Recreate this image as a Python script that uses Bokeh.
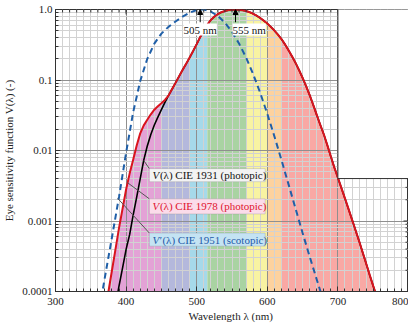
import numpy as np
from bokeh.plotting import figure
from bokeh.models import (FixedTicker, Range1d, BoxAnnotation, Label, Arrow, NormalHead,
                          CustomJSTickFormatter)
from bokeh.embed import file_html
from bokeh.resources import INLINE

# ---------------- data ----------------
wl_1931 = [380, 385, 390, 395, 400, 405, 410, 415, 420, 425, 430, 435, 440, 445, 450,
           455, 460, 465, 470, 475, 480, 485, 490, 495, 500, 505, 510, 515, 520, 525,
           530, 535, 540, 545, 550, 555, 560, 565, 570, 575, 580, 585, 590, 595, 600,
           605, 610, 615, 620, 625, 630, 635, 640, 645, 650, 655, 660, 665, 670, 675,
           680, 685, 690, 695, 700, 705, 710, 715, 720, 725, 730, 735, 740, 745, 750,
           755, 760]
v_1931 = [0.000039, 0.000064, 0.00012, 0.000217, 0.000396, 0.00064, 0.00121, 0.00218,
          0.004, 0.0073, 0.0116, 0.01684, 0.023, 0.0298, 0.038, 0.048, 0.06, 0.0739,
          0.09098, 0.1126, 0.13902, 0.1693, 0.20802, 0.2586, 0.323, 0.4073, 0.503,
          0.6082, 0.71, 0.7932, 0.862, 0.9149, 0.954, 0.9803, 0.99495, 1.0, 0.995,
          0.9786, 0.952, 0.9154, 0.87, 0.8163, 0.757, 0.6949, 0.631, 0.5668, 0.503,
          0.4412, 0.381, 0.321, 0.265, 0.217, 0.175, 0.1382, 0.107, 0.0816, 0.061,
          0.04458, 0.032, 0.0232, 0.017, 0.01192, 0.00821, 0.005723, 0.004102, 0.002929,
          0.002091, 0.001484, 0.001047, 0.00074, 0.00052, 0.000361, 0.000249, 0.000172,
          0.00012, 0.0000848, 0.00006]

wl_1978 = [375, 380, 385, 390, 395, 400, 405, 410, 415, 420, 425, 430, 435, 440, 445,
           450, 455, 460, 465, 470, 475, 480, 485, 490, 495, 500, 505, 510, 515, 520,
           525, 530, 535, 540, 545, 550, 555, 560, 565, 570, 575, 580, 585, 590, 595,
           600, 605, 610, 615, 620, 625, 630, 635, 640, 645, 650, 655, 660, 665, 670,
           675, 680, 685, 690, 695, 700, 705, 710, 715, 720, 725, 730, 735, 740, 745,
           750, 755]
v_1978 = [0.0001, 0.0002, 0.0004, 0.0008, 0.0015, 0.0028, 0.0047, 0.0074, 0.0118,
          0.0175, 0.0227, 0.0273, 0.0326, 0.0379, 0.0424, 0.0468, 0.0521, 0.06, 0.0739,
          0.091, 0.1126, 0.139, 0.1693, 0.208, 0.2586, 0.323, 0.4073, 0.503, 0.6082,
          0.71, 0.7932, 0.862, 0.9149, 0.954, 0.9803, 0.99495, 1.0, 0.995, 0.9786,
          0.952, 0.9154, 0.87, 0.8163, 0.757, 0.6949, 0.631, 0.5668, 0.503, 0.4412,
          0.381, 0.321, 0.265, 0.217, 0.175, 0.1382, 0.107, 0.0816, 0.061, 0.04458,
          0.032, 0.0232, 0.017, 0.01192, 0.00821, 0.005723, 0.004102, 0.002929,
          0.002091, 0.001484, 0.001047, 0.00074, 0.00052, 0.000361, 0.000249,
          0.000172, 0.00012, 0.0000848]

wl_1951 = [360, 370, 380, 390, 400, 410, 420, 430, 440, 450, 460, 470, 480, 490, 500,
           505, 510, 520, 530, 540, 550, 560, 570, 580, 590, 600, 610, 620, 630, 640,
           650, 660, 670, 680]
v_1951 = [0.000042, 0.00016, 0.000589, 0.002209, 0.00929, 0.03484, 0.0966, 0.1998,
          0.3281, 0.455, 0.567, 0.676, 0.793, 0.904, 0.982, 1.0, 0.997, 0.935, 0.811,
          0.65, 0.481, 0.3288, 0.2076, 0.1212, 0.0655, 0.03315, 0.01593, 0.00737,
          0.003335, 0.001497, 0.000677, 0.0003129, 0.000148, 0.0000715]

band_edges = [375, 450, 490, 515, 570, 600, 620, 755]
band_colors = ["#e3a2d6", "#b4b8dc", "#a6d9ea", "#a9d3a2", "#f8f3a2", "#fdd29e", "#f9a8a4"]

x_ticks = [300, 400, 500, 600, 700, 800]
y_ticks = [0.0001, 0.001, 0.01, 0.1, 1.0]
y_tick_labels = ["0.0001", "0.001", "0.01", "0.1", "1.0"]

peak_wl = [505, 555]
peak_labels = ["505 nm", "555 nm"]

# ---------------- figure ----------------
FONT = "Liberation Serif"
X_MIN, X_MAX = 300, 800
Y_MIN, Y_MAX = 1e-4, 1.0
AX = "#333333"
W, H = 408, 324

p = figure(width=W, height=H, x_range=Range1d(X_MIN, X_MAX), y_range=Range1d(Y_MIN, Y_MAX),
           y_axis_type="log", output_backend="svg", toolbar_location=None,
           min_border_left=0, min_border_right=0, min_border_top=9, min_border_bottom=0)
p.background_fill_color = "white"
p.border_fill_color = "white"
p.outline_line_color = AX

x_minor = list(range(X_MIN, X_MAX + 1, 10))
y_minor = [m * 10.0 ** e for e in range(-4, 0) for m in range(2, 10)]
xt = FixedTicker(ticks=x_ticks, minor_ticks=x_minor)
yt = FixedTicker(ticks=y_ticks, minor_ticks=y_minor)

yfmt = CustomJSTickFormatter(args=dict(vals=y_ticks, labs=y_tick_labels), code="""
for (let i = 0; i < vals.length; i++) {
  if (Math.abs(Math.log10(tick) - Math.log10(vals[i])) < 1e-6) return labs[i];
}
return "";
""")


def style_axis(ax):
    ax.axis_line_color = AX
    ax.major_tick_line_color = AX
    ax.minor_tick_line_color = AX
    ax.major_tick_in = 5
    ax.major_tick_out = 0
    ax.minor_tick_in = 3
    ax.minor_tick_out = 0
    ax.major_label_text_font = FONT
    ax.major_label_text_font_size = "11px"
    ax.major_label_text_color = "#222222"
    ax.axis_label_text_font = FONT
    ax.axis_label_text_font_size = "11px"
    ax.axis_label_text_font_style = "normal"
    ax.axis_label_text_color = "#222222"


xa = p.xaxis[0]
xa.ticker = xt
style_axis(xa)
xa.axis_label = "Wavelength λ  (nm)"
xa.major_label_standoff = 6
xa.axis_label_standoff = 2

ya = p.yaxis[0]
ya.ticker = yt
ya.formatter = yfmt
style_axis(ya)
ya.axis_label = "Eye sensitivity function V(λ) (-)"
ya.major_label_standoff = 3
ya.axis_label_standoff = 4

for g in (p.xgrid[0], p.ygrid[0]):
    g.grid_line_color = "#8f8f8f"
    g.grid_line_width = 1
    g.minor_grid_line_color = "#d2d2d2"
    g.minor_grid_line_width = 1
p.xgrid[0].ticker = xt
p.ygrid[0].ticker = yt

# ---------------- colour bands under the 1978 curve ----------------
wl78 = np.array(wl_1978, dtype=float)
v78 = np.array(v_1978, dtype=float)
for a, b, c in zip(band_edges[:-1], band_edges[1:], band_colors):
    m = (wl78 >= a) & (wl78 <= b)
    r = p.varea(x=wl78[m], y1=np.full(m.sum(), Y_MIN), y2=v78[m], fill_color=c, fill_alpha=1.0)
    r.level = "image"

# ---------------- curves ----------------
p.line(wl_1931, v_1931, line_color="black", line_width=1.6)
p.line(wl_1978, v_1978, line_color="#d9141e", line_width=2)
p.line(wl_1951, v_1951, line_color="#1f5fa8", line_width=2, line_dash="6 4")

# ---------------- inward ticks on the top and right frame edges (clipped half-dashes) ----------------
p.scatter(x=x_ticks, y=[Y_MAX] * len(x_ticks), marker="dash", angle=np.pi / 2, size=10,
          line_color=AX, line_width=1)
p.scatter(x=x_minor, y=[Y_MAX] * len(x_minor), marker="dash", angle=np.pi / 2, size=6,
          line_color=AX, line_width=1)
p.scatter(x=[X_MAX] * len(y_ticks), y=y_ticks, marker="dash", size=10, line_color=AX, line_width=1)
p.scatter(x=[X_MAX] * len(y_minor), y=y_minor, marker="dash", size=6, line_color=AX, line_width=1)

# ---------------- cut-out at the top right ----------------
STEP = 0.004
p.add_layout(BoxAnnotation(left=700, left_units="data", right=W, right_units="canvas",
                           top=0, top_units="canvas", bottom=STEP, bottom_units="data",
                           fill_color="white", fill_alpha=1.0, line_color=None))
for xs, ys in (([700, 700], [Y_MAX, STEP]), ([700, X_MAX], [STEP, STEP])):
    rr = p.line(xs, ys, line_color=AX, line_width=1)
    rr.level = "overlay"

# ---------------- peak markers ----------------
for w, t, off, al in zip(peak_wl, peak_labels, [0, -3], ["center", "left"]):
    p.add_layout(Arrow(x_start=w, y_start=0.66, x_end=w, y_end=Y_MAX,
                       line_color="black", line_width=1,
                       end=NormalHead(size=5, fill_color="black", line_color="black")))
    p.add_layout(Label(x=w, y=0.52, text=t, x_offset=off, text_align=al,
                       text_baseline="middle", text_font=FONT, text_font_size="11px",
                       text_color="#111111", background_fill_color="white",
                       background_fill_alpha=1.0))

# ---------------- callout boxes ----------------
callouts = [
    # (box bottom, box top, text centre, text colour, fill colour, italic part, rest, leader start)
    (0.00361, 0.00553, 0.00447, "#111111", "#f3f3f3", "V", "(λ) CIE 1931 (photopic)", (425, 0.0072)),
    (0.00126, 0.00206, 0.00161, "#e0142e", "#fbdcea", "V", "(λ) CIE 1978 (photopic)", (402, 0.0035)),
    (0.00044, 0.000674, 0.000545, "#1f5aa8", "#c4e3f3", "V′", "(λ) CIE 1951 (scotopic)", (388, 0.0021)),
]
BOX_L, BOX_R = 433, 597
for bot, top, mid, tc, fc, ital, rest, (lx, ly) in callouts:
    rr = p.line([lx, BOX_L], [ly, top], line_color="#555555", line_width=1)
    rr.level = "overlay"
    p.add_layout(BoxAnnotation(left=BOX_L, right=BOX_R, bottom=bot, top=top,
                               fill_color=fc, fill_alpha=1.0, line_color="#8a8a8a",
                               line_width=1, level="overlay"))
    p.add_layout(Label(x=BOX_L, y=mid, x_offset=3, text=ital, text_font=FONT,
                       text_font_size="11px", text_font_style="italic", text_color=tc,
                       text_baseline="middle", text_align="left", level="overlay"))
    p.add_layout(Label(x=BOX_L, y=mid, x_offset=3 + (7.5 if ital == "V" else 10), text=rest,
                       text_font=FONT, text_font_size="11px", text_color=tc,
                       text_baseline="middle", text_align="left", level="overlay"))

open("out.html", "w").write(file_html(p, INLINE))
